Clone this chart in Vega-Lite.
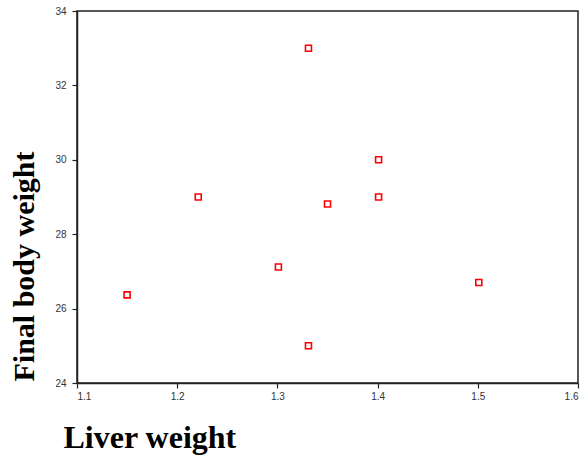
{
  "$schema": "https://vega.github.io/schema/vega-lite/v6.json",
  "width": 501,
  "height": 372,
  "autosize": "none",
  "padding": {"left": 77, "top": 11, "right": 7, "bottom": 74},
  "background": "white",
  "config": {
    "view": {"stroke": "#222", "strokeWidth": 1.5},
    "axis": {
      "grid": false,
      "domainColor": "#222",
      "domainWidth": 1.5,
      "tickColor": "#222",
      "tickWidth": 1.2,
      "tickSize": 5,
      "labelFont": "Liberation Sans",
      "labelFontSize": 10,
      "labelColor": "#333",
      "titleFont": "Liberation Serif",
      "titleFontWeight": "bold",
      "titleColor": "#000"
    }
  },
  "data": {
    "values": [
      {"liver": 1.15, "body": 26.37},
      {"liver": 1.221, "body": 29.0},
      {"liver": 1.301, "body": 27.12},
      {"liver": 1.331, "body": 33.0},
      {"liver": 1.331, "body": 25.0},
      {"liver": 1.35, "body": 28.81},
      {"liver": 1.401, "body": 30.0},
      {"liver": 1.401, "body": 29.0},
      {"liver": 1.501, "body": 26.7}
    ]
  },
  "mark": {"type": "point", "shape": "square", "filled": false, "size": 36, "color": "#ff0000", "strokeWidth": 1.6, "opacity": 1},
  "encoding": {
    "x": {
      "field": "liver",
      "type": "quantitative",
      "scale": {"domain": [1.1, 1.6], "nice": false, "zero": false},
      "axis": {
        "values": [1.1, 1.2, 1.3, 1.4, 1.5, 1.6],
        "format": ".1f",
        "labelPadding": 3,
        "title": "Liver weight",
        "titleFontSize": 32,
        "titleX": -14,
        "titleY": 64,
        "titleAlign": "left",
        "titleBaseline": "alphabetic"
      }
    },
    "y": {
      "field": "body",
      "type": "quantitative",
      "scale": {"domain": [24, 34], "nice": false, "zero": false},
      "axis": {
        "values": [24, 26, 28, 30, 32, 34],
        "format": "d",
        "labelPadding": 6,
        "title": "Final body weight",
        "titleFontSize": 30,
        "titleX": -44,
        "titleY": 255,
        "titleAngle": -90,
        "titleAlign": "center",
        "titleBaseline": "alphabetic"
      }
    }
  }
}
